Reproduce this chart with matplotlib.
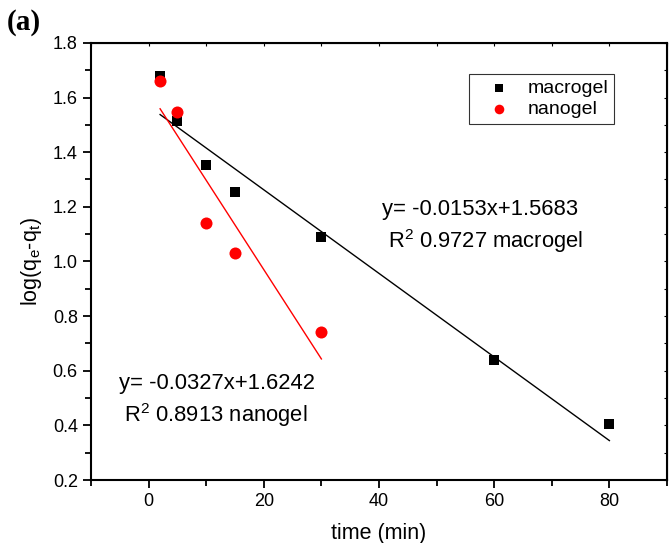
import matplotlib
matplotlib.use("Agg")
import matplotlib.pyplot as plt
from matplotlib.ticker import MultipleLocator
import numpy as np

plt.rcParams['font.family'] = ['Liberation Sans', 'DejaVu Sans']
plt.rcParams['mathtext.fontset'] = 'custom'
plt.rcParams['mathtext.rm'] = 'Liberation Sans'
plt.rcParams['mathtext.it'] = 'Liberation Sans'

# Data
macro_t = [2, 5, 10, 15, 30, 60, 80]
macro_y = [1.68, 1.513, 1.352, 1.253, 1.090, 0.640, 0.405]
nano_t = [2, 5, 10, 15, 30]
nano_y = [1.661, 1.546, 1.140, 1.030, 0.740]

macro_fit = (-0.0153, 1.5683)
nano_fit = (-0.0327, 1.6242)

fig = plt.figure(figsize=(6.69, 5.43), dpi=100)
ax = fig.add_axes([0.136, 0.116, 0.861, 0.805])

ax.scatter(macro_t, macro_y, marker='s', s=60, color='black', label='macrogel', zorder=3, linewidths=0)
ax.scatter(nano_t, nano_y, marker='o', s=75, color='red', label='nanogel', zorder=4, linewidths=0)

xm = np.array([macro_t[0], macro_t[-1]])
ax.plot(xm, macro_fit[0] * xm + macro_fit[1], color='black', lw=1.0, zorder=2)
xn = np.array([nano_t[0], nano_t[-1]])
ax.plot(xn, nano_fit[0] * xn + nano_fit[1], color='red', lw=1.0, zorder=2)

ax.set_xlim(-10, 90)
ax.set_ylim(0.2, 1.8)
ax.xaxis.set_major_locator(MultipleLocator(20))
ax.xaxis.set_minor_locator(MultipleLocator(10))
ax.yaxis.set_major_locator(MultipleLocator(0.2))
ax.yaxis.set_minor_locator(MultipleLocator(0.1))
ax.yaxis.set_major_formatter(matplotlib.ticker.FormatStrFormatter('%.1f'))

for sp in ax.spines.values():
    sp.set_linewidth(1.5)

ax.tick_params(axis='both', which='major', direction='out', length=6, width=1.3, labelsize=13)
ax.tick_params(axis='both', which='minor', direction='out', length=4, width=1.3)
ax.tick_params(top=False, right=False)

# tiny inner ticks on top/right
axt = ax.secondary_xaxis('top')
axt.xaxis.set_major_locator(MultipleLocator(10))
axt.tick_params(direction='in', length=2, width=0.8, labeltop=False)
axr = ax.secondary_yaxis('right')
axr.yaxis.set_major_locator(MultipleLocator(0.1))
axr.tick_params(direction='in', length=2, width=0.8, labelright=False)

ax.set_xlabel('time (min)', fontsize=15.5, labelpad=9)
ax.set_ylabel(r'log(q$_\mathregular{e}$-q$_\mathregular{t}$)', fontsize=15.5, labelpad=6)

ax.text(57.5, 1.19, 'y= -0.0153x+1.5683', fontsize=15.8, ha='center', va='center')
ax.text(58.5, 1.075, r'R$^\mathregular{2}$ 0.9727 macrogel', fontsize=15.8, ha='center', va='center')
ax.text(11.8, 0.555, 'y= -0.0327x+1.6242', fontsize=15.8, ha='center', va='center')
ax.text(11.6, 0.438, r'R$^\mathregular{2}$ 0.8913 nanogel', fontsize=15.8, ha='center', va='center')

leg = ax.legend(loc='upper right', bbox_to_anchor=(0.908, 0.929), fontsize=14,
                frameon=True, fancybox=False, edgecolor='black', handletextpad=0.2,
                borderpad=0.3, labelspacing=0.15, handlelength=2.5, markerscale=0.8,
                borderaxespad=0)
leg.get_frame().set_linewidth(0.8)

fig.text(0.01, 0.945, '(a)', fontsize=21, fontweight='bold', family='Liberation Serif')

fig.savefig('out.png', dpi=100)
